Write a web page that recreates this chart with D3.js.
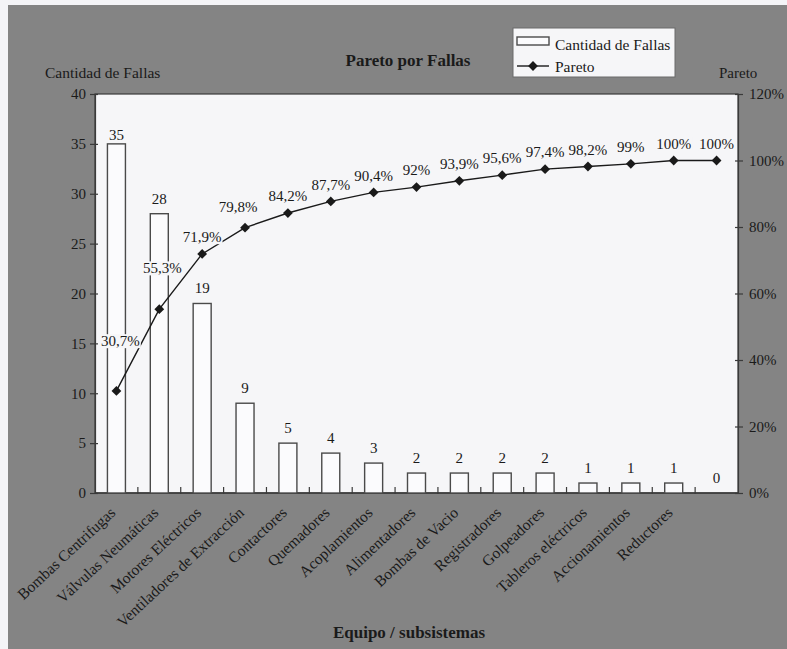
<!DOCTYPE html>
<html><head><meta charset="utf-8">
<script src="https://cdn.jsdelivr.net/npm/d3@7"></script>
<style>
html,body{margin:0;padding:0;background:#fff;}
svg{display:block;font-family:"Liberation Serif","Times New Roman",serif;}
</style></head>
<body>
<svg id="chart" width="787" height="649"></svg>
<script>
// ---- data ----
const categories = ["Bombas Centrifugas","Válvulas Neumáticas","Motores Eléctricos","Ventiladores de Extracción","Contactores","Quemadores","Acoplamientos","Alimentadores","Bombas de Vacio","Registradores","Golpeadores","Tableros eléctricos","Accionamientos","Reductores",""];
const fallas = [35,28,19,9,5,4,3,2,2,2,2,1,1,1,0];
const pareto = [30.7,55.3,71.9,79.8,84.2,87.7,90.4,92,93.9,95.6,97.4,98.2,99,100,100];
const leftTicks = [0,5,10,15,20,25,30,35,40];
const rightTicks = [0,20,40,60,80,100,120];
const title = "Pareto por Fallas";
const xTitle = "Equipo / subsistemas";
const yLeftTitle = "Cantidad de Fallas";
const yRightTitle = "Pareto";
const legendItems = ["Cantidad de Fallas","Pareto"];

// ---- layout ----
const W = 787, H = 649;
const plot = {left:95, right:738, top:94, bottom:493};
const svg = d3.select("#chart");
const fontSize = 15;
const ink = "#1a1a1a";

// background
svg.append("rect").attr("x",0).attr("y",0).attr("width",W).attr("height",H).attr("fill","#f4f4f7");
svg.append("rect").attr("x",8).attr("y",5).attr("width",W-8).attr("height",H-5).attr("fill","#848484");

const x = d3.scaleBand().domain(categories.map((c,i)=>i)).range([plot.left, plot.right]).paddingInner(0).paddingOuter(0);
const yL = d3.scaleLinear().domain([0,40]).range([plot.bottom, plot.top]);
const yR = d3.scaleLinear().domain([0,120]).range([plot.bottom, plot.top]);

// plot area
svg.append("rect").attr("x",plot.left).attr("y",plot.top)
  .attr("width",plot.right-plot.left).attr("height",plot.bottom-plot.top)
  .attr("fill","#f6f6f8").attr("stroke","#3a3a3a").attr("stroke-width",1.2);

// axes
const loc = d3.formatLocale({decimal:",",thousands:".",grouping:[3],currency:["","€"]});
const pctFmt = v => loc.format(".1~f")(v) + "%";

const axL = svg.append("g").attr("transform",`translate(${plot.left},0)`)
  .call(d3.axisLeft(yL).tickValues(leftTicks).tickSize(5).tickPadding(4));
const axR = svg.append("g").attr("transform",`translate(${plot.right},0)`)
  .call(d3.axisRight(yR).tickValues(rightTicks).tickSize(5).tickPadding(6).tickFormat(d=>d+"%"));
[axL,axR].forEach(a=>{
  a.select(".domain").attr("stroke","#3a3a3a").attr("stroke-width",1.2);
  a.selectAll(".tick line").attr("stroke","#3a3a3a").attr("stroke-width",1.2);
  a.selectAll(".tick text").attr("font-family","Liberation Serif").attr("font-size",fontSize).attr("fill",ink);
});
axL.selectAll(".tick").append("line").attr("x1",0).attr("x2",3).attr("stroke","#3a3a3a").attr("stroke-width",1.2);
axR.selectAll(".tick").append("line").attr("x1",0).attr("x2",-3).attr("stroke","#3a3a3a").attr("stroke-width",1.2);

// x axis: boundary ticks inside
const axB = svg.append("g").attr("transform",`translate(0,${plot.bottom})`);
axB.append("line").attr("x1",plot.left).attr("x2",plot.right).attr("y1",0).attr("y2",0).attr("stroke","#3a3a3a").attr("stroke-width",1.4);
axB.selectAll("line.bt").data(categories.slice(1)).join("line").attr("class","bt")
  .attr("x1",(d,i)=>x(i+1)).attr("x2",(d,i)=>x(i+1)).attr("y1",-6).attr("y2",1)
  .attr("stroke","#3a3a3a").attr("stroke-width",1.2);
axB.selectAll("text.cat").data(categories).join("text").attr("class","cat")
  .attr("transform",(d,i)=>`translate(${x(i)+x.bandwidth()/2},21) rotate(-43)`)
  .attr("text-anchor","end").attr("font-size",15.5).attr("fill",ink).text(d=>d);

// bars
const bw = 18;
svg.append("g").selectAll("rect").data(fallas).join("rect")
  .attr("x",(d,i)=>x(i)+x.bandwidth()/2-bw/2)
  .attr("y",d=>yL(d)).attr("width",bw).attr("height",d=>plot.bottom-yL(d))
  .attr("fill","#fbfbfd").attr("stroke","#4a4a4a").attr("stroke-width",1.4);
svg.append("g").selectAll("text").data(fallas).join("text")
  .attr("x",(d,i)=>x(i)+x.bandwidth()/2)
  .attr("y",d=>Math.max(yL(d)-10, plot.top+46))
  .attr("text-anchor","middle").attr("font-size",fontSize).attr("fill",ink).text(d=>d);

// pareto line
const px = i => x(i)+x.bandwidth()/2;
const line = d3.line().x((d,i)=>px(i)).y(d=>yR(d));
svg.append("path").datum(pareto).attr("d",line).attr("fill","none").attr("stroke",ink).attr("stroke-width",1.4);

// labels with background (label offsets are layout, not data)
const shift = {0:[4,-50],1:[3,-41],3:[-7,-21]};
const lg = svg.append("g");
pareto.forEach((v,i)=>{
  const [dx,dy] = shift[i] || [0,-17];
  const g = lg.append("g");
  const t = g.append("text").attr("x",px(i)+dx).attr("y",yR(v)+dy).attr("dy","0.35em")
    .attr("text-anchor","middle").attr("font-size",fontSize).attr("fill",ink).text(pctFmt(v));
  const bb = t.node().getBBox();
  g.insert("rect","text").attr("x",bb.x-1).attr("y",bb.y+1).attr("width",bb.width+2).attr("height",bb.height-2).attr("fill","#f6f6f8");
});

// markers
const diamond = d3.symbol().type(d3.symbolSquare).size(48);
svg.append("g").selectAll("path").data(pareto).join("path")
  .attr("transform",(d,i)=>`translate(${px(i)},${yR(d)}) rotate(45)`)
  .attr("d",diamond).attr("fill",ink);

// titles
svg.append("text").attr("x",408).attr("y",66).attr("text-anchor","middle")
  .attr("font-size",17).attr("font-weight","bold").attr("fill",ink).text(title);
svg.append("text").attr("x",409).attr("y",638).attr("text-anchor","middle")
  .attr("font-size",17).attr("font-weight","bold").attr("fill",ink).text(xTitle);
svg.append("text").attr("x",45).attr("y",78).attr("font-size",15.5).attr("fill",ink).text(yLeftTitle);
svg.append("text").attr("x",719).attr("y",78).attr("font-size",15).attr("fill",ink).text(yRightTitle);

// legend
const leg = svg.append("g");
leg.append("rect").attr("x",513).attr("y",28).attr("width",162).attr("height",49)
  .attr("fill","#f6f6f8").attr("stroke","#6a6a6a").attr("stroke-width",1);
leg.append("rect").attr("x",517).attr("y",37).attr("width",32).attr("height",8)
  .attr("fill","#fbfbfd").attr("stroke","#4a4a4a").attr("stroke-width",1.4);
leg.append("text").attr("x",555).attr("y",50).attr("font-size",15.5).attr("fill",ink).text(legendItems[0]);
leg.append("line").attr("x1",517).attr("x2",549).attr("y1",66).attr("y2",66).attr("stroke",ink).attr("stroke-width",1.4);
leg.append("path").attr("transform","translate(533,66) rotate(45)").attr("d",diamond).attr("fill",ink);
leg.append("text").attr("x",555).attr("y",72).attr("font-size",15.5).attr("fill",ink).text(legendItems[1]);
</script>
</body></html>
